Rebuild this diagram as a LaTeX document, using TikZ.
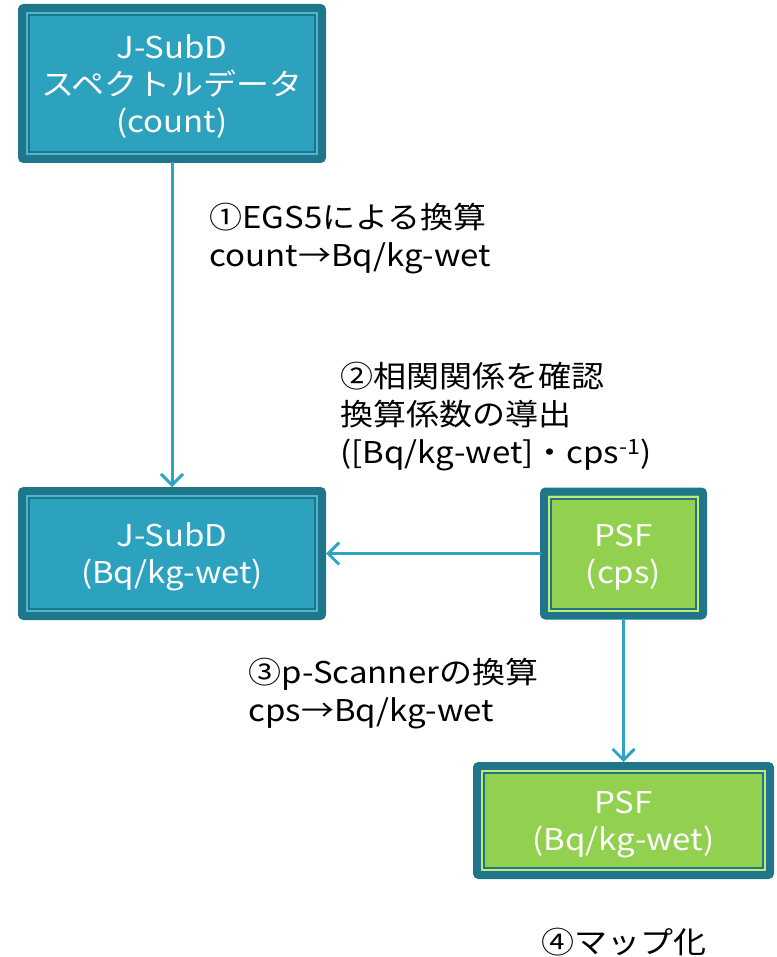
\documentclass[tikz,border=0pt]{standalone}
\usepackage{fontspec}
\setmainfont[FakeStretch=1.1]{Noto Sans CJK JP}
\usepackage{tikz}
\usetikzlibrary{calc,positioning,arrows.meta}

\definecolor{subdblue}{RGB}{44,162,191}
\definecolor{framedark}{RGB}{31,118,138}
\definecolor{psfgreen}{RGB}{146,208,80}
\definecolor{arrowblue}{RGB}{46,164,196}
\definecolor{liteblue}{RGB}{74,184,210}
\definecolor{litegreen}{RGB}{196,232,112}

\begin{document}
\begin{tikzpicture}[
  x=1pt,y=-1pt,
  >={Straight Barb[length=11pt,width=22pt]},
  databox/.style={rectangle,draw=framedark,line width=8pt,rounded corners=2pt,
    text=white,align=center,text depth=-10pt,font=\fontsize{30}{37}\selectfont},
  subd/.style={databox,fill=subdblue},
  psf/.style={databox,fill=psfgreen},
  flow/.style={->,draw=arrowblue,line width=3pt,line cap=round,line join=round},
  note/.style={align=left,anchor=west,font=\fontsize{30}{38}\selectfont},
  ]

  \useasboundingbox (0,0) rectangle (776,957);

  %data boxes
  \node (subd_count) [subd,minimum width=300,minimum height=151] at (172,83.5)
    {J-SubD\\スペクトルデータ\\(count)};
  \node (subd_bq) [subd,minimum width=300,minimum height=125] at (172,553.5)
    {J-SubD\\(Bq/kg-wet)};
  \node (psf_cps) [psf,minimum width=159,minimum height=124] at (623.5,553.5)
    {PSF\\(cps)};
  \node (psf_bq) [psf,minimum width=293,minimum height=109] at (623.5,820.5)
    {PSF\\(Bq/kg-wet)};

  %inner double frame
  \foreach \n/\c in {subd_count/liteblue,subd_bq/liteblue,psf_cps/litegreen,psf_bq/litegreen}
   {
     \draw[\c,line width=2pt] ($(\n.north west)+(9,9)$) rectangle ($(\n.south east)+(-9,-9)$);
     \draw[framedark,line width=2pt] ($(\n.north west)+(11,11)$) rectangle ($(\n.south east)+(-11,-11)$);
   }

  %conversion steps
  \draw[flow] (subd_count) -- (subd_bq);
  \draw[flow] (psf_cps) -- (subd_bq);
  \draw[flow] (psf_cps) -- (psf_bq);

  %labels
  \node (step_egs) [note] at (206,239) {①EGS5による換算\\count→Bq/kg-wet};
  \node (step_corr) [note] at (337,417) {②相関関係を確認\\換算係数の導出\\([Bq/kg-wet]・cps\textsuperscript{-1})};
  \node (step_scan) [note] at (245,694) {③p-Scannerの換算\\cps→Bq/kg-wet};
  \node (step_map) [font=\fontsize{30}{38}\selectfont] at (623.5,942) {④マップ化};

\end{tikzpicture}
\end{document}
